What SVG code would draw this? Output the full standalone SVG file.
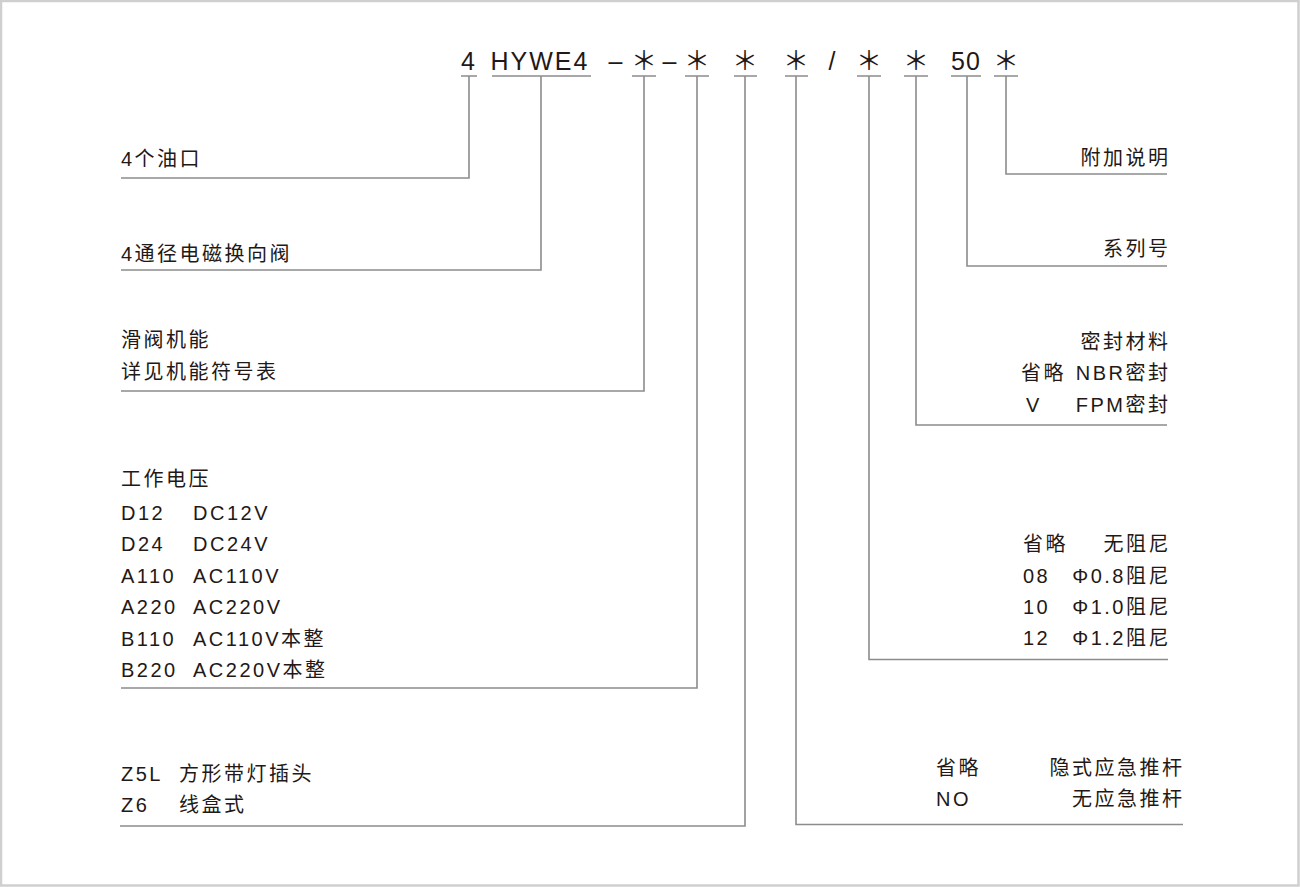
<svg xmlns="http://www.w3.org/2000/svg" width="1300" height="887" viewBox="0 0 1300 887">
<style>
text{font-family:"Liberation Sans","Noto Sans CJK SC",sans-serif;fill:#231815;font-size:20px;letter-spacing:2.5px}
.code{font-size:25px;letter-spacing:2px}
.star{font-family:"Noto Sans CJK SC",sans-serif;font-size:26px;letter-spacing:0}
.e{text-anchor:end}
.c{text-anchor:middle}
.ln{fill:none;stroke:#8c8c8c;stroke-width:1.6}
</style>
<rect x="1" y="1" width="1297.5" height="884.5" fill="#fff" stroke="#cfcfcf" stroke-width="2.5"/>

<g id="code">
<text class="code" x="461" y="70">4</text>
<text class="code" x="490.5" y="70">HYWE4</text>
<text class="code c" x="615.5" y="70" style="letter-spacing:0">–</text>
<text class="star c" x="644" y="70">＊</text>
<text class="code c" x="669.5" y="70" style="letter-spacing:0">–</text>
<text class="star c" x="697" y="70">＊</text>
<text class="star c" x="745" y="70">＊</text>
<text class="star c" x="796" y="70">＊</text>
<text class="code c" x="832" y="70" style="letter-spacing:0">/</text>
<text class="star c" x="869" y="70">＊</text>
<text class="star c" x="916" y="70">＊</text>
<text class="code c" x="966" y="70" style="letter-spacing:1px">50</text>
<text class="star c" x="1006" y="70">＊</text>
</g>

<g id="connectors" class="ln">
<path class="ln" d="M461 76H477M492 76H591M632 76H656M685 76H709M734 76H757M785 76H808M857 76H881M904 76H928M951 76H981M994 76H1018"/>
<path class="ln" d="M469 76V178H121"/>
<path class="ln" d="M541 76V270H121"/>
<path class="ln" d="M644 76V391H121"/>
<path class="ln" d="M697 76V688H121"/>
<path class="ln" d="M745 76V826H120"/>
<path class="ln" d="M796 76V824.5H1183"/>
<path class="ln" d="M869 76V659.5H1168"/>
<path class="ln" d="M916 76V425H1167"/>
<path class="ln" d="M967 76V266H1167"/>
<path class="ln" d="M1006 76V174H1167"/>
</g>

<g id="ports"><text x="121" y="166">4个油口</text></g>
<g id="size"><text x="121" y="261">4通径电磁换向阀</text></g>
<g id="spool"><text x="121" y="347">滑阀机能</text><text x="121" y="378.5">详见机能符号表</text></g>
<g id="voltage">
<text x="121" y="486">工作电压</text>
<text x="121" y="519.5">D12</text><text x="193" y="519.5">DC12V</text>
<text x="121" y="551">D24</text><text x="193" y="551">DC24V</text>
<text x="121" y="582.5">A110</text><text x="193" y="582.5">AC110V</text>
<text x="121" y="614">A220</text><text x="193" y="614">AC220V</text>
<text x="121" y="645.5">B110</text><text x="193" y="645.5">AC110V本整</text>
<text x="121" y="677">B220</text><text x="193" y="677">AC220V本整</text>
</g>
<g id="plug">
<text x="121" y="781">Z5L</text><text x="179" y="781">方形带灯插头</text>
<text x="121" y="812">Z6</text><text x="179" y="812">线盒式</text>
</g>
<g id="note"><text class="e" x="1170.5" y="164.5">附加说明</text></g>
<g id="series"><text class="e" x="1170.5" y="256">系列号</text></g>
<g id="seal">
<text class="e" x="1170.5" y="348.5">密封材料</text>
<text x="1021" y="380">省略</text><text class="e" x="1170.5" y="380">NBR密封</text>
<text x="1026" y="411.5">V</text><text class="e" x="1170.5" y="411.5">FPM密封</text>
</g>
<g id="damping">
<text x="1023" y="551">省略</text><text class="e" x="1171" y="551">无阻尼</text>
<text x="1023" y="582.5">08</text><text class="e" x="1171" y="582.5">Φ0.8阻尼</text>
<text x="1023" y="613.5">10</text><text class="e" x="1171" y="613.5">Φ1.0阻尼</text>
<text x="1023" y="644.5">12</text><text class="e" x="1171" y="644.5">Φ1.2阻尼</text>
</g>
<g id="pushrod">
<text x="936" y="774.5">省略</text><text class="e" x="1184.5" y="774.5">隐式应急推杆</text>
<text x="936" y="805.5">NO</text><text class="e" x="1184.5" y="805.5">无应急推杆</text>
</g>
</svg>
